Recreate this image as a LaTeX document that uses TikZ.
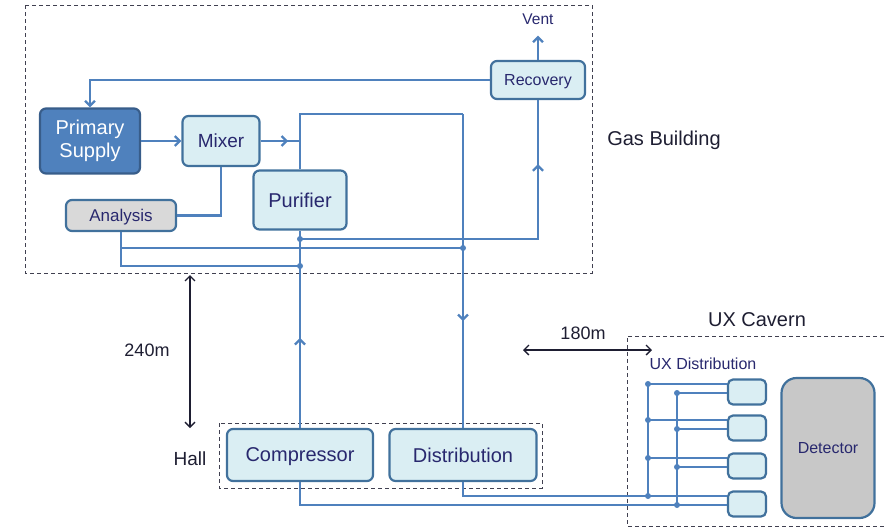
\documentclass[tikz,border=0pt]{standalone}
\usepackage{fontspec}
\setmainfont{Liberation Sans}
\usepackage{xcolor}
\usepackage{tikz}
\usetikzlibrary{arrows.meta,decorations.markings}

\definecolor{pipecol}{HTML}{4F81BD}
\definecolor{edgecol}{HTML}{41719C}
\definecolor{unitfill}{HTML}{DAEEF3}
\definecolor{supplyfill}{HTML}{4F81BD}
\definecolor{supplyedge}{HTML}{385D8A}
\definecolor{greyfill}{HTML}{D9D9D9}
\definecolor{detfill}{HTML}{C8C8C8}
\definecolor{navy}{HTML}{28286E}
\definecolor{ink}{HTML}{1E1E32}
\definecolor{zonecol}{HTML}{404050}

\tikzset{
  box/.style={draw=edgecol, line width=2.2pt, fill=unitfill, rounded corners=6pt,
    text=navy, inner sep=0pt, align=center},
  unit/.style={box, text depth=0pt},
  pipe/.style={color=pipecol, line width=2.3pt},
  flow/.style={pipe, -{Straight Barb[length=5pt,width=10pt]}},
  midarrow/.style={pipe, postaction={decorate}, decoration={markings,
    mark=at position #1 with {\arrow{Straight Barb[length=5pt,width=10pt]}}}},
  zone/.style={draw=zonecol, line width=1pt, dash pattern=on 4pt off 3pt},
  dim/.style={draw=ink, line width=1.3pt,
    {Straight Barb[length=5pt,width=10pt]}-{Straight Barb[length=5pt,width=10pt]}},
  caption/.style={text=ink, inner sep=0pt},
}

\begin{document}
\begin{tikzpicture}[x=1pt, y=-1pt]
  \useasboundingbox (0,0) rectangle (884,528);
  % Zones
  \draw[zone] (25,5) rectangle (592,273);
  \draw[zone] (219,423) rectangle (542,488);
  \draw[zone] (884,336) -- (627,336) -- (627,526) -- (884,526);
  \node[caption, font=\fontsize{20}{20}\selectfont] (gas) at (664,140) {Gas Building};
  \node[caption, font=\fontsize{19}{19}\selectfont] (hall) at (190,459) {Hall};
  \node[caption, font=\fontsize{20}{20}\selectfont] (cavern) at (757,320) {UX Cavern};
  \node[caption, text=navy, font=\fontsize{16}{16}\selectfont] (uxdist) at (703,364) {UX Distribution};

  % Gas building units
  \node[box, fill=supplyfill, draw=supplyedge, text=white, minimum width=100pt,
    minimum height=65pt, font=\fontsize{20}{23}\selectfont] (supply) at (90,141) {Primary\\Supply};
  \node[unit, minimum width=77pt, minimum height=50pt,
    font=\fontsize{19}{19}\selectfont] (mixer) at (221,141) {Mixer};
  \node[unit, minimum width=93pt, minimum height=59pt,
    font=\fontsize{20}{20}\selectfont] (purifier) at (300,200) {Purifier};
  \node[unit, fill=greyfill, minimum width=110pt, minimum height=31pt,
    font=\fontsize{17}{17}\selectfont] (analysis) at (121,215.5) {Analysis};
  \node[unit, minimum width=94pt, minimum height=38pt,
    font=\fontsize{16}{16}\selectfont] (recovery) at (538,80) {Recovery};
  \node[caption, text=navy, font=\fontsize{15.5}{15.5}\selectfont] (vent) at (538,19) {Vent};

  % Hall units
  \node[unit, minimum width=146pt, minimum height=52pt,
    font=\fontsize{20}{20}\selectfont] (compressor) at (300,455) {Compressor};
  \node[unit, minimum width=147pt, minimum height=52pt,
    font=\fontsize{20}{20}\selectfont] (distribution) at (463,455) {Distribution};

  % Cavern units
  \foreach \i/\y in {1/392,2/428,3/466,4/504}
    \node[box, rounded corners=5pt, minimum width=38pt, minimum height=25pt] (ux\i) at (747,\y) {};
  \node[unit, fill=detfill, rounded corners=15pt, minimum width=93pt, minimum height=140pt,
    font=\fontsize{16}{16}\selectfont] (detector) at (828,448) {Detector};

  % Gas loop
  \draw[flow] (recovery.north) -- ([yshift=-11pt]vent.south);
  \draw[flow] (recovery.west) -| (supply.north);
  \draw[flow] (supply) -- (mixer);
  \draw[midarrow=0.7] (mixer.east) -- (mixer.east -| purifier.north);
  \draw[pipe] (mixer.south) |- (analysis.east);
  \coordinate (turn) at (463,114);
  \draw[pipe] (purifier.north) |- (turn);
  \draw[midarrow=0.66] (turn) -- (distribution.north);
  \coordinate (tap) at (300,239);
  \draw[midarrow=0.83] (tap) -| (recovery.south);
  \draw[midarrow=0.456] (compressor.north) -- (purifier.south);
  \coordinate (junc1) at (463,248);
  \coordinate (junc2) at (300,266);
  \draw[pipe] (analysis.south) |- (junc2);
  \draw[pipe] (analysis.south |- junc1) -- (junc1);
  \foreach \c in {tap,junc1,junc2}
    \fill[pipecol] (\c) circle (3pt);

  % Distances
  \coordinate (hTop) at (190,275);
  \coordinate (hBot) at (190,428);
  \draw[dim] (hTop) -- (hBot);
  \node[caption, font=\fontsize{18}{18}\selectfont] (d240) at (147,350) {240m};
  \coordinate (cLeft) at (523,350);
  \coordinate (cRight) at (652,350);
  \draw[dim] (cLeft) -- (cRight);
  \node[caption, font=\fontsize{18}{18}\selectfont] (d180) at (583,333) {180m};

  % UX distribution buses
  \coordinate (busA) at (648,0);
  \coordinate (busB) at (677,0);
  \foreach \i in {1,...,4} {
    \path ([yshift=8pt]ux\i.west) coordinate (ina\i)
          ([yshift=-1pt]ux\i.west) coordinate (inb\i);
    \draw[pipe] (busA |- ina\i) -- (ina\i);
    \draw[pipe] (busB |- inb\i) -- (inb\i);
  }
  \draw[pipe] (distribution.south) |- (ina4);
  \draw[pipe] (compressor.south) |- (inb4);
  \draw[pipe] (busA |- ina1) -- (busA |- ina4);
  \draw[pipe] (busB |- inb1) -- (busB |- inb4);
  \foreach \i in {1,...,4} {
    \fill[pipecol] (busA |- ina\i) circle (3pt);
    \fill[pipecol] (busB |- inb\i) circle (3pt);
  }
\end{tikzpicture}
\end{document}
